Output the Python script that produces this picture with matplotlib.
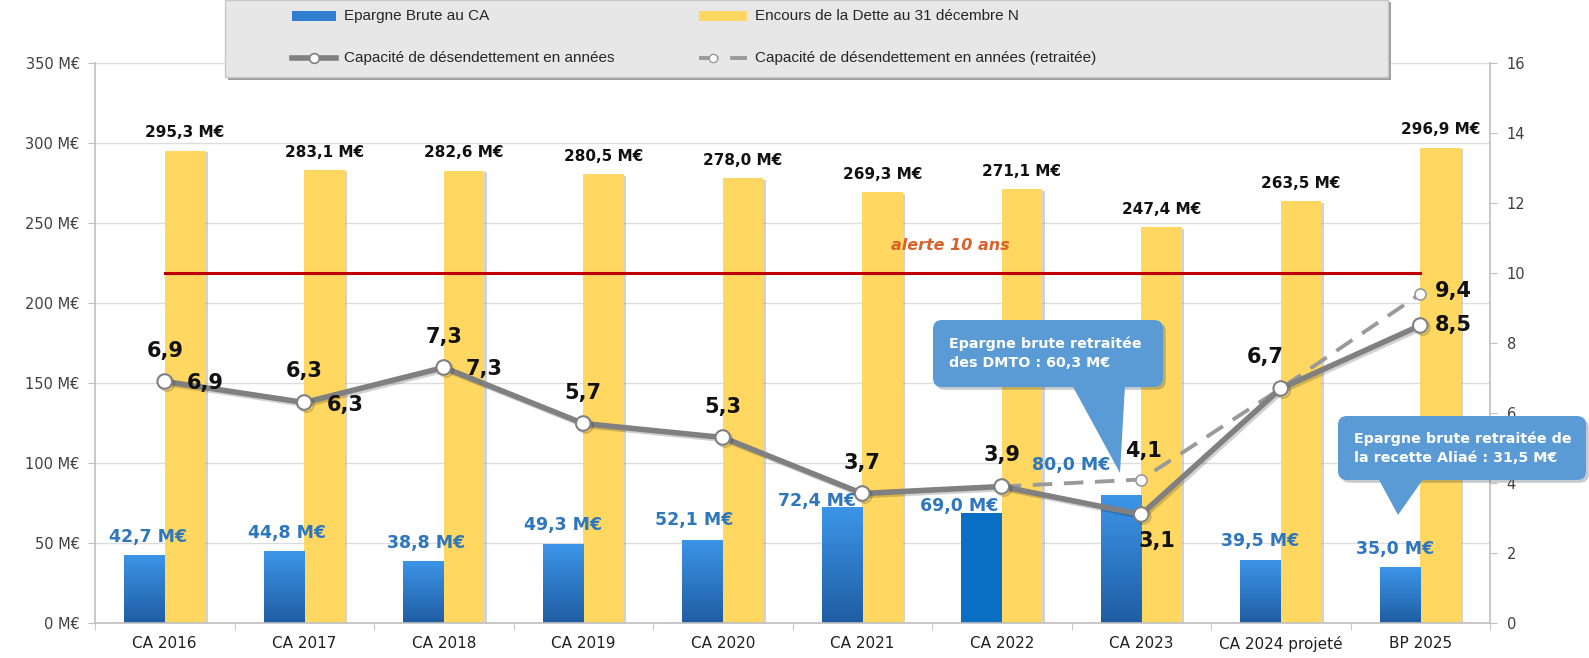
import matplotlib
matplotlib.use("Agg")
import matplotlib.pyplot as plt
import numpy as np
from matplotlib.patches import FancyBboxPatch, Polygon, Rectangle
from matplotlib.lines import Line2D
from matplotlib.transforms import IdentityTransform
from matplotlib.colors import LinearSegmentedColormap
import matplotlib.patheffects as pe

# ---------------- data ----------------
categories = ["CA 2016", "CA 2017", "CA 2018", "CA 2019", "CA 2020",
              "CA 2021", "CA 2022", "CA 2023", "CA 2024 projeté", "BP 2025"]
epargne_brute = [42.7, 44.8, 38.8, 49.3, 52.1, 72.4, 69.0, 80.0, 39.5, 35.0]
encours_dette = [295.3, 283.1, 282.6, 280.5, 278.0, 269.3, 271.1, 247.4, 263.5, 296.9]
capacite = [6.9, 6.3, 7.3, 5.7, 5.3, 3.7, 3.9, 3.1, 6.7, 8.5]
capacite_retraitee = [np.nan, np.nan, np.nan, np.nan, np.nan, np.nan, 3.9, 4.1, 6.7, 9.4]
left_ticks = [0, 50, 100, 150, 200, 250, 300, 350]
right_ticks = [0, 2, 4, 6, 8, 10, 12, 14, 16]
alerte = 10
alerte_label = "alerte 10 ans"
legend_labels = ["Epargne Brute au CA", "Encours de la Dette au 31 décembre N",
                 "Capacité de désendettement en années",
                 "Capacité de désendettement en années (retraitée)"]
callout_1 = "Epargne brute retraitée\ndes DMTO : 60,3 M€"
callout_2 = "Epargne brute retraitée de\nla recette Aliaé : 31,5 M€"

# ---------------- style ----------------
W, H = 1589, 658
BLUE_TOP, BLUE_BOT = "#3D95E8", "#1F5DA3"
BLUE_HI = "#0A6FC2"
YELLOW = "#FFD761"
GRAY_LINE = "#808080"
GRAY_DASH = "#9A9A9A"
LABEL_BLUE = "#2E77BC"
CALLOUT = "#5B9BD5"
AXIS_GRAY = "#BFBFBF"
TXT_GRAY = "#404040"
highlight_bar = 6
FONT = "DejaVu Sans"

def fx(x):
    return x / W

def fy(y):
    return 1 - y / H

def fmt(v, unit=""):
    return f"{v:.1f}".replace(".", ",") + unit

fig = plt.figure(figsize=(W / 100, H / 100), dpi=100)
fig.patch.set_facecolor("white")
ax = fig.add_axes([fx(95), fy(623), 1395 / W, 560 / H])
ax2 = ax.twinx()

x = np.arange(len(categories))
bw = 0.29

# ---- bars ----
blue_bars = ax.bar(x - bw / 2, epargne_brute, bw, color=BLUE_BOT, zorder=2, linewidth=0)
yel_bars = ax.bar(x + bw / 2, encours_dette, bw, color=YELLOW, zorder=2, linewidth=0,
                  path_effects=[pe.SimplePatchShadow(offset=(2, -1), shadow_rgbFace="#808080", alpha=0.35),
                                pe.Normal()])
cmap = LinearSegmentedColormap.from_list("b", [BLUE_BOT, BLUE_TOP])
grad = np.linspace(0, 1, 256).reshape(-1, 1)
for i, r in enumerate(blue_bars):
    x0, w, h = r.get_x(), r.get_width(), r.get_height()
    if i == highlight_bar:
        r.set_facecolor(BLUE_HI)
        continue
    im = ax.imshow(grad, extent=[x0, x0 + w, 0, h], origin="lower", aspect="auto",
                   cmap=cmap, zorder=2.1)
    im.set_clip_path(r)

ax.set_xlim(-0.5, len(categories) - 0.5)
ax.set_ylim(left_ticks[0], left_ticks[-1])
ax2.set_ylim(right_ticks[0], right_ticks[-1])

# ---- axes styling ----
ax.set_yticks(left_ticks)
ax.set_yticklabels([f"{v} M€" for v in left_ticks], fontsize=10.5, color=TXT_GRAY, family=FONT)
ax.yaxis.grid(True, color="#DDDDDD", lw=1)
ax.set_axisbelow(True)
ax.set_xticks(x)
ax.set_xticklabels(categories, fontsize=11, color="#202020", family=FONT)
ax.set_xticks(np.arange(-0.5, len(categories)), minor=True)
ax.tick_params(axis="x", which="major", length=0, pad=9)
ax.tick_params(axis="x", which="minor", length=5, color=AXIS_GRAY)
ax.tick_params(axis="y", length=5, color=AXIS_GRAY, pad=6)
ax2.set_yticks(right_ticks)
ax2.set_yticklabels([str(v) for v in right_ticks], fontsize=10.5, color=TXT_GRAY, family=FONT)
ax2.tick_params(axis="y", length=5, color=AXIS_GRAY, pad=7)
for s in ["top", "right"]:
    ax.spines[s].set_visible(False)
for s in ["top", "left", "bottom"]:
    ax2.spines[s].set_visible(False)
for a, s in [(ax, "left"), (ax, "bottom"), (ax2, "right")]:
    a.spines[s].set_color(AXIS_GRAY)
    a.spines[s].set_linewidth(1.2)

# ---- bar labels ----
blue_off = [(4, 18), (3, 18), (3, 18), (0, 19), (-8, 20), (-25, 6), (-22, 7), (-50, 30), (0, 19), (-5, 18)]
for i, v in enumerate(epargne_brute):
    dx, dy = blue_off[i]
    ax.annotate(fmt(v, " M€"), (x[i] - bw / 2, v), xytext=(dx * 0.72, dy * 0.72),
                textcoords="offset points", ha="center", va="center",
                fontsize=12.5, fontweight="bold", color=LABEL_BLUE, family=FONT, zorder=6)
for i, v in enumerate(encours_dette):
    ax.annotate(fmt(v, " M€"), (x[i] + bw / 2, v), xytext=(0, 18 * 0.72),
                textcoords="offset points", ha="center", va="center",
                fontsize=11, fontweight="bold", color="#111111", family=FONT, zorder=6)

# ---- alert line ----
ax2.plot([x[0], x[-1]], [alerte, alerte], color="#C00000", lw=2.2, zorder=3)
ax2.annotate(alerte_label, (5.63, alerte), xytext=(0, 28 * 0.72), textcoords="offset points",
             ha="center", va="center", fontsize=11.5, fontweight="bold", fontstyle="italic",
             color="#D9622B", family=FONT)

# ---- lines ----
shadow = [pe.SimpleLineShadow(offset=(1.5, -1.5), alpha=0.18), pe.Normal()]
ax2.plot(x, capacite_retraitee, color=GRAY_DASH, lw=2.8, ls=(0, (5, 3)), marker="o", ms=8,
         mfc="white", mec=GRAY_DASH, mew=1.2, zorder=4, dash_capstyle="butt")
ax2.plot(x, capacite, color=GRAY_LINE, lw=4, marker="o", ms=10.5, mfc="white", mec=GRAY_LINE,
         mew=1.5, zorder=5, path_effects=shadow)

# ---- line labels ----
LBL = dict(textcoords="offset points", fontsize=15, fontweight="bold", color="#111111",
           family=FONT, zorder=7)
above = {0: (0, 31), 1: (0, 31), 2: (0, 31), 3: (0, 31), 4: (0, 31), 5: (0, 31), 6: (0, 31), 8: (-16, 32)}
for i, (dx, dy) in above.items():
    ax2.annotate(fmt(capacite[i]), (x[i], capacite[i]), xytext=(dx * 0.72, dy * 0.72),
                 ha="center", va="center", **LBL)
for i in [0, 1, 2]:
    ax2.annotate(fmt(capacite[i]), (x[i], capacite[i]), xytext=(22 * 0.72, -2 * 0.72),
                 ha="left", va="center", **LBL)
ax2.annotate(fmt(capacite[7]), (x[7], capacite[7]), xytext=(16 * 0.72, -26 * 0.72),
             ha="center", va="center", **LBL)
ax2.annotate(fmt(capacite_retraitee[7]), (x[7], capacite_retraitee[7]), xytext=(2 * 0.72, 28 * 0.72),
             ha="center", va="center", **LBL)
ax2.annotate(fmt(capacite_retraitee[9]), (x[9], capacite_retraitee[9]), xytext=(15 * 0.72, 3 * 0.72),
             ha="left", va="center", **LBL)
ax2.annotate(fmt(capacite[9]), (x[9], capacite[9]), xytext=(15 * 0.72, 0),
             ha="left", va="center", **LBL)

# ---- callouts (pixel coordinates, y from top) ----
T = IdentityTransform()

def callout(x0, y0, x1, y1, base0, base1, tip, text):
    box = FancyBboxPatch((x0, H - y1), x1 - x0, y1 - y0,
                         boxstyle="round,pad=0,rounding_size=9", transform=T,
                         facecolor=CALLOUT, edgecolor="none", zorder=8,
                         path_effects=[pe.SimplePatchShadow(offset=(2, -2), alpha=0.25), pe.Normal()])
    fig.add_artist(box)
    tri = Polygon([(base0, H - y1 + 2), (base1, H - y1 + 2), (tip[0], H - tip[1])], closed=True,
                  transform=T, facecolor=CALLOUT, edgecolor="none", zorder=8)
    fig.add_artist(tri)
    fig.text(x0 + 16, H - (y0 + y1) / 2, text, transform=T, ha="left", va="center",
             fontsize=10.3, fontweight="bold", color="white", family=FONT, zorder=9,
             linespacing=1.45)

callout(933, 320, 1163, 387, 1072, 1125, (1120, 473), callout_1)
callout(1338, 416, 1586, 480, 1378, 1424, (1398, 515), callout_2)

# ---- legend (pixel coordinates, y from top) ----
fig.add_artist(Rectangle((228, H - 80), 1163, 78, transform=T, facecolor="#9E9E9E",
                         edgecolor="none", zorder=1))
fig.add_artist(Rectangle((225, H - 77), 1163, 77, transform=T, facecolor="#E7E7E7",
                         edgecolor="#C8C8C8", lw=1, zorder=1.1))
row1, row2 = 16, 58
col1, col2 = 292, 699
fig.add_artist(Rectangle((col1, H - row1 - 5), 44, 10, transform=T, facecolor="#2F80D0",
                         edgecolor="none", zorder=2))
fig.add_artist(Rectangle((col2, H - row1 - 5), 48, 10, transform=T, facecolor=YELLOW,
                         edgecolor="none", zorder=2))
fig.add_artist(Line2D([col1, col1 + 44], [H - row2, H - row2], transform=T, color=GRAY_LINE,
                      lw=4, zorder=2))
fig.add_artist(Line2D([col1 + 22], [H - row2], transform=T, color=GRAY_LINE, lw=0, marker="o",
                      ms=7, mfc="white", mec=GRAY_LINE, mew=1.2, zorder=3))
fig.add_artist(Line2D([col2, col2 + 48], [H - row2, H - row2], transform=T, color=GRAY_DASH,
                      lw=2.8, ls=(0, (5, 3)), zorder=2))
fig.add_artist(Line2D([col2 + 14], [H - row2], transform=T, color=GRAY_DASH, lw=0, marker="o",
                      ms=6, mfc="white", mec=GRAY_DASH, mew=1, zorder=3))
LEG = dict(transform=T, ha="left", va="center", fontsize=11, color="#262626",
           family="Liberation Sans", zorder=3)
fig.text(col1 + 52, H - row1, legend_labels[0], **LEG)
fig.text(col2 + 56, H - row1, legend_labels[1], **LEG)
fig.text(col1 + 52, H - row2, legend_labels[2], **LEG)
fig.text(col2 + 56, H - row2, legend_labels[3], **LEG)

fig.savefig("out.png", dpi=100)
